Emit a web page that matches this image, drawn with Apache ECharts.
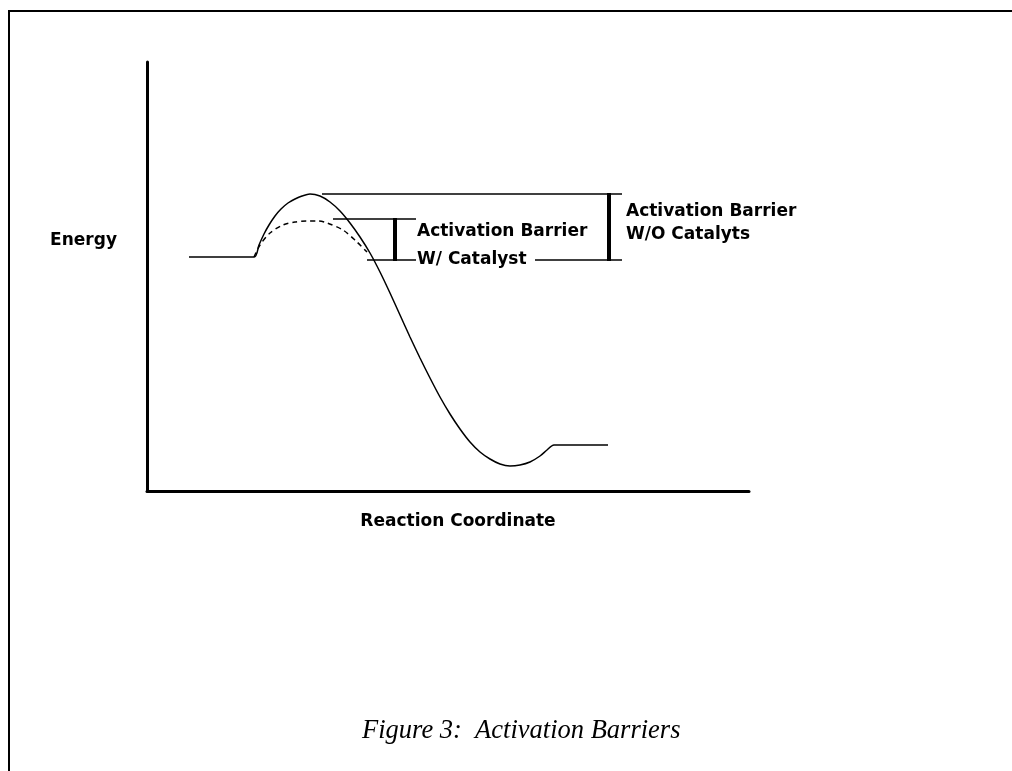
<!DOCTYPE html>
<html>
<head>
<meta charset="utf-8">
<title>Activation Barriers</title>
<script src="https://cdn.jsdelivr.net/npm/echarts@6/dist/echarts.min.js"></script>
<style>
  html, body { margin: 0; padding: 0; background: #fff; }
  #chart { width: 1012px; height: 771px; }
</style>
</head>
<body>
<div id="chart"></div>
<script>
// energy profile, no catalyst
var uncatX = [42, 107, 112, 117, 122, 128, 134, 141, 148, 155, 163, 173, 183, 193, 203, 213, 223, 233, 243, 253, 263, 273, 283, 293, 303, 313, 323, 333, 343, 353, 363, 373, 383, 393, 400, 407, 461];
var uncatY = [234, 234, 246, 257, 266, 275, 282, 288, 292, 295, 297, 295, 289, 280, 268, 254, 238, 219, 198, 176, 154, 133, 113, 94, 77, 62, 49, 39, 32, 27, 25, 26, 29, 35, 41, 46, 46];

// catalysed path (dashed), joins the main curve on the way down
var catX = [107, 113, 123, 136, 148, 160, 171, 180, 196, 210, 220];
var catY = [234, 246, 258, 266, 269, 270, 270, 268, 261, 249, 239];

// barrier levels
var levelStart = 231;
var levelCat = 272;
var levelUncat = 297;

// thin guide lines [x1, x2, y]
var guides = [
  [175, 475, levelUncat],
  [186, 269, levelCat],
  [220, 269, levelStart],
  [388, 475, levelStart]
];
// thick barrier bars [x, y1, y2]
var bars = [
  [248, levelStart - 1, levelCat + 1],
  [462, levelStart - 1, levelUncat + 1]
];

// annotation text [x, y, text]
var notes = [
  [270, 259, 'Activation Barrier'],
  [270, 231, 'W/ Catalyst'],
  [479, 279, 'Activation Barrier'],
  [479, 256, 'W/O Catalyts']
];

function zip(xs, ys) {
  var out = [];
  for (var i = 0; i < xs.length; i++) out.push([xs[i], ys[i]]);
  return out;
}

var chart = echarts.init(document.getElementById('chart'));

var series = [
  {
    name: 'uncatalysed',
    type: 'line',
    data: zip(uncatX, uncatY),
    smooth: 0.3,
    symbol: 'none',
    lineStyle: { color: '#000', width: 1.5 },
    z: 3
  },
  {
    name: 'catalysed',
    type: 'line',
    data: zip(catX, catY),
    smooth: 0.3,
    symbol: 'none',
    lineStyle: { color: '#000', width: 1.5, type: [5, 4] },
    z: 3
  }
];

guides.forEach(function (g) {
  series.push({
    type: 'line',
    data: [[g[0], g[2]], [g[1], g[2]]],
    symbol: 'none',
    lineStyle: { color: '#000', width: 1.4 }
  });
});

bars.forEach(function (b) {
  series.push({
    type: 'line',
    data: [[b[0], b[1]], [b[0], b[2]]],
    symbol: 'none',
    lineStyle: { color: '#000', width: 4, cap: 'butt' }
  });
});

series.push({
  type: 'scatter',
  data: notes,
  symbolSize: 0,
  itemStyle: { opacity: 1 },
  label: {
    show: true,
    position: 'right',
    distance: 0,
    formatter: function (p) { return p.value[2]; },
    fontFamily: 'DejaVu Sans',
    fontWeight: 'bold',
    fontSize: 17,
    color: '#000',
    opacity: 1,
    textBorderWidth: 0,
    verticalAlign: 'middle'
  }
});

var option = {
  animation: false,
  backgroundColor: '#fff',
  title: {
    text: 'Figure 3:  Activation Barriers',
    left: 357,
    top: 713,
    textStyle: {
      fontFamily: 'Liberation Serif',
      fontStyle: 'italic',
      fontWeight: 'normal',
      fontSize: 26.5,
      color: '#000'
    }
  },
  graphic: [
    {
      type: 'rect',
      shape: { x: 9, y: 11, width: 1020, height: 780 },
      style: { fill: 'none', stroke: '#000', lineWidth: 2 },
      silent: true
    },
    {
      type: 'text',
      right: 1012 - 117,
      top: 232,
      style: {
        text: 'Energy',
        fontFamily: 'DejaVu Sans',
        fontWeight: 'bold',
        fontSize: 17,
        fill: '#000'
      }
    }
  ],
  grid: { left: 147, top: 62, width: 602, height: 429 },
  xAxis: {
    type: 'value',
    min: 0,
    max: 602,
    name: 'Reaction Coordinate',
    nameLocation: 'middle',
    nameGap: 22,
    nameTextStyle: {
      fontFamily: 'DejaVu Sans',
      fontWeight: 'bold',
      fontSize: 17,
      color: '#000',
      padding: [0, 0, 0, 20]
    },
    axisLine: { show: true, lineStyle: { color: '#000', width: 3 } },
    axisTick: { show: false },
    axisLabel: { show: false },
    splitLine: { show: false }
  },
  yAxis: {
    type: 'value',
    min: 0,
    max: 429,
    axisLine: { show: true, lineStyle: { color: '#000', width: 3 } },
    axisTick: { show: false },
    axisLabel: { show: false },
    splitLine: { show: false }
  },
  series: series
};

chart.setOption(option);
</script>
</body>
</html>
